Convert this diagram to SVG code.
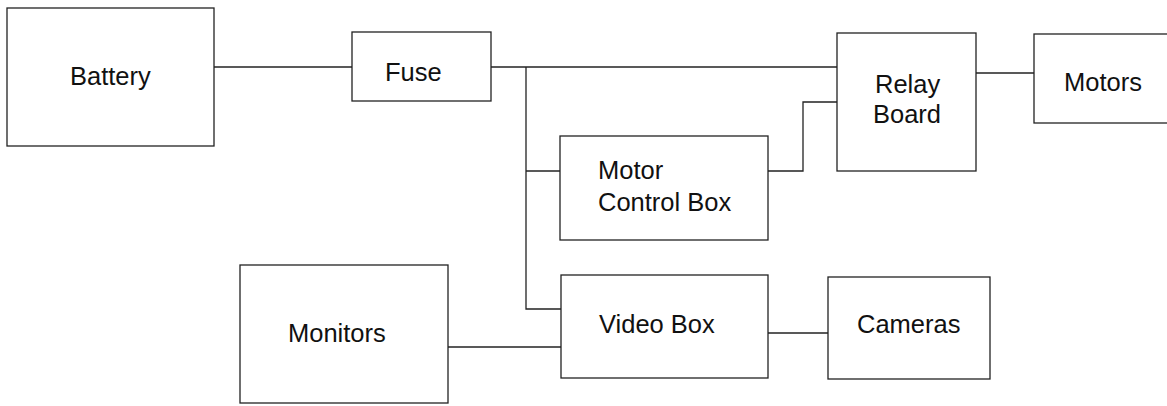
<svg xmlns="http://www.w3.org/2000/svg" width="1167" height="406" viewBox="0 0 1167 406">
<style>
.box{fill:#fff;stroke:#222;stroke-width:1.3}
.wire{fill:none;stroke:#222;stroke-width:1.3}
text{font-family:"Liberation Sans",Arial,sans-serif;font-size:25.5px;fill:#111}
</style>
<rect width="1167" height="406" fill="#fff"/>
<g id="connectors">
<path class="wire" d="M214 67H353"/>
<path class="wire" d="M491 67H838"/>
<path class="wire" d="M526 67V309H561"/>
<path class="wire" d="M526 171H560"/>
<path class="wire" d="M768 171H803V102H838"/>
<path class="wire" d="M976 73H1034"/>
<path class="wire" d="M448 347H561"/>
<path class="wire" d="M768 333H828"/>
</g>
<g id="battery"><rect class="box" x="7" y="8" width="207" height="138"/><text x="70" y="85">Battery</text></g>
<g id="fuse"><rect class="box" x="352" y="32" width="139" height="69"/><text x="385" y="81">Fuse</text></g>
<g id="relay"><rect class="box" x="837" y="33" width="139" height="138"/><text x="875" y="93">Relay</text><text x="873" y="123">Board</text></g>
<g id="motors"><rect class="box" x="1034" y="34" width="140" height="89"/><text x="1064" y="91">Motors</text></g>
<g id="mcb"><rect class="box" x="560" y="136" width="208" height="104"/><text x="598" y="179">Motor</text><text x="598" y="211">Control Box</text></g>
<g id="monitors"><rect class="box" x="240" y="265" width="208" height="138"/><text x="288" y="342">Monitors</text></g>
<g id="video"><rect class="box" x="561" y="275" width="207" height="103"/><text x="599" y="333">Video Box</text></g>
<g id="cameras"><rect class="box" x="828" y="277" width="162" height="102"/><text x="857" y="333">Cameras</text></g>
</svg>
